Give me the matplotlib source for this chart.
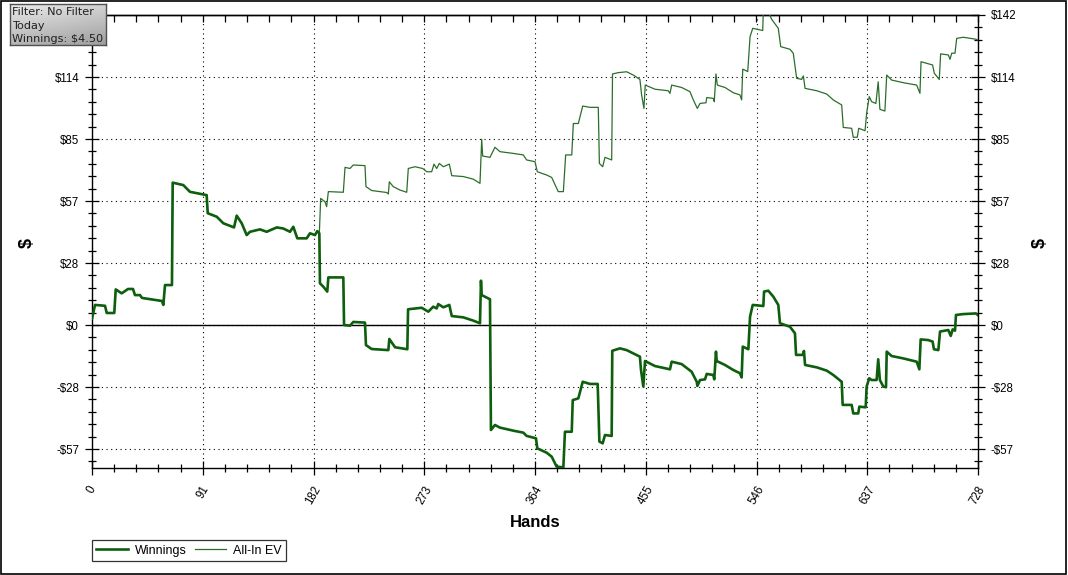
import matplotlib
matplotlib.use("Agg")
import matplotlib.pyplot as plt
import numpy as np
from matplotlib.ticker import FixedLocator, MultipleLocator
from matplotlib.patches import Rectangle

# ---------------- data ----------------
win_hands = [0, 2.5, 10.7, 12.1, 18.3, 19.5, 24.4, 29.6, 33.7, 35.3, 39.4, 41.1, 57.5, 58.6, 60.0, 65.7,
             66.3, 75.0, 80.5, 94.2, 95.1, 102.5, 107.9, 116.7, 118.9, 123.0, 127.1, 129.8, 138.0, 143.5,
             151.8, 157.2, 162.7, 165.4, 168.7, 176.4, 179.1, 183.2, 185.1, 186.8, 187.3, 190.0, 193.3,
             194.2, 206.5, 207.1, 212.0, 214.7, 224.3, 225.1, 229.8, 243.5, 244.3, 249.0, 259.1, 259.7,
             270.9, 276.3, 280.4, 283.2, 284.5, 288.7, 293.6, 295.6, 305.1, 313.3, 318.8, 319.6, 320.2,
             327.0, 327.8, 331.1, 335.2, 346.2, 354.4, 357.1, 364.8, 365.9, 373.6, 377.7, 381.8, 387.3,
             388.6, 394.2, 395.0, 399.6, 403.2, 409.2, 415.5, 416.9, 419.6, 421.5, 427.0, 427.5, 433.8,
             439.3, 450.2, 451.1, 453.0, 454.4, 462.6, 474.9, 476.3, 484.5, 492.7, 496.9, 497.4, 499.6,
             503.7, 505.1, 510.5, 511.3, 512.7, 513.3, 520.1, 526.9, 532.4, 533.8, 534.7, 539.3, 540.7,
             542.9, 551.6, 552.2, 555.7, 559.8, 563.9, 565.3, 573.5, 577.6, 578.5, 584.0, 585.0, 585.9,
             595.5, 603.7, 609.1, 616.0, 616.8, 624.2, 625.5, 629.6, 630.5, 635.7, 636.5, 638.6, 640.6,
             644.7, 646.0, 647.4, 650.2, 652.4, 653.0, 657.0, 666.6, 677.6, 679.8, 680.9, 687.1, 690.7,
             691.8, 695.4, 696.8, 703.6, 705.6, 707.2, 709.1, 709.9, 715.9, 726.3, 728]
win_values = [3.0, 9.2, 8.8, 5.5, 5.5, 16.3, 14.5, 16.5, 16.5, 13.7, 13.7, 12.4, 11.0, 9.2, 18.3, 18.3,
              65.2, 64.1, 61.0, 59.5, 51.2, 49.6, 46.6, 44.7, 50.1, 46.6, 41.2, 42.7, 43.8, 42.7,
              44.7, 44.2, 42.7, 45.0, 39.7, 39.7, 42.0, 41.2, 43.0, 42.0, 19.1, 17.6, 15.3,
              21.8, 21.8, 0.0, -0.3, 1.4, 1.1, -9.2, -11.0, -11.5, -6.4, -10.2, -11.1, 7.2,
              7.9, 6.1, 8.4, 7.6, 9.6, 8.1, 9.2, 4.1, 3.5, 2.0, 0.8, 20.3, 13.7,
              11.8, -48.1, -45.8, -47.0, -48.4, -49.3, -50.8, -51.9, -56.5, -58.5, -60.3, -64.9, -65.2,
              -48.9, -48.9, -34.4, -33.6, -26.0, -27.0, -27.0, -53.4, -54.2, -50.4, -50.8, -11.8, -10.7,
              -11.5, -14.5, -20.6, -28.2, -16.5, -18.8, -20.3, -16.8, -17.9, -21.4, -26.0, -27.9, -25.2,
              -24.9, -22.4, -22.9, -24.9, -12.2, -16.5, -18.3, -20.6, -22.1, -24.0, -9.9, -11.1, 3.8,
              9.2, 8.7, 15.3, 15.7, 13.0, 9.2, 0.8, -0.8, -3.8, -13.7, -13.7, -11.9, -18.3,
              -19.4, -20.9, -22.9, -26.0, -36.6, -36.6, -40.5, -40.5, -37.4, -37.7, -28.2, -24.4, -25.2,
              -25.2, -15.7, -25.2, -28.2, -28.5, -12.2, -14.2, -15.3, -16.8, -20.3, -6.6, -6.9, -7.6,
              -11.1, -11.5, -3.0, -2.3, -5.0, -2.0, -2.6, 4.6, 5.0, 5.3, 4.5]

ev_hands = [0, 2.5, 10.7, 12.1, 18.3, 19.5, 24.4, 29.6, 33.7, 35.3, 39.4, 41.1, 57.5, 58.6, 60.0, 65.7,
            66.3, 75.0, 80.5, 94.2, 95.1, 102.5, 107.9, 116.7, 118.9, 123.0, 127.1, 129.8, 138.0, 143.5,
            151.8, 157.2, 162.7, 165.4, 168.7, 176.4, 179.1, 183.2, 185.1, 186.8, 187.9, 191.4, 192.8,
            194.2, 206.5, 207.9, 212.0, 214.7, 224.3, 225.1, 229.8, 242.1, 243.5, 244.3, 247.5, 253.1,
            258.6, 259.9, 265.4, 271.7, 275.0, 279.1, 281.0, 283.2, 285.4, 288.7, 293.6, 295.6, 305.1,
            313.3, 318.8, 320.2, 321.0, 327.0, 331.1, 335.2, 346.2, 354.4, 357.1, 364.0, 365.9, 373.6,
            377.7, 383.1, 387.3, 389.2, 394.2, 395.5, 399.6, 403.2, 409.2, 416.0, 416.9, 419.6, 421.5,
            427.0, 427.7, 432.5, 439.3, 444.7, 450.2, 451.6, 453.5, 454.6, 462.6, 473.5, 474.9, 476.3,
            484.5, 491.3, 494.1, 497.4, 499.6, 504.5, 505.1, 510.5, 511.3, 512.7, 513.8, 520.1, 526.9,
            532.4, 533.8, 534.7, 538.8, 540.7, 542.9, 551.1, 551.6, 555.7, 558.5, 563.9, 565.9, 573.5,
            576.2, 579.0, 583.1, 584.5, 585.9, 595.5, 603.7, 609.1, 616.0, 617.3, 624.2, 625.5, 628.8,
            630.0, 635.2, 636.5, 638.6, 640.6, 644.1, 646.0, 647.4, 651.5, 653.0, 657.0, 666.6, 677.6,
            680.3, 681.2, 690.7, 692.1, 696.2, 697.3, 703.6, 705.0, 706.4, 709.1, 710.5, 715.9, 726.3, 728]
ev_values = [3.0, 9.2, 8.8, 5.5, 5.5, 16.3, 14.5, 16.5, 16.5, 13.7, 13.7, 12.4, 11.0, 9.2, 18.3, 18.3,
             65.2, 64.1, 61.0, 59.5, 51.2, 49.6, 46.6, 44.7, 50.1, 46.6, 41.2, 42.7, 43.8, 42.7,
             44.7, 44.2, 42.7, 45.0, 39.7, 39.7, 42.0, 41.2, 43.0, 42.0, 58.0, 56.5, 54.2,
             61.1, 60.8, 72.2, 71.7, 73.3, 73.0, 63.4, 61.6, 60.7, 60.0, 65.6, 63.4, 61.8,
             60.8, 71.7, 72.5, 71.7, 70.2, 70.2, 73.7, 71.7, 74.0, 72.5, 73.7, 68.4, 68.0,
             66.8, 64.9, 85.1, 77.4, 76.8, 81.4, 79.4, 78.6, 77.9, 75.6, 74.8, 70.2, 68.7,
             67.6, 61.1, 61.1, 77.9, 77.9, 92.3, 92.3, 100.3, 99.7, 99.7, 74.0, 72.5, 76.8,
             75.6, 115.0, 115.6, 116.0, 114.5, 112.5, 105.4, 99.2, 109.9, 108.0, 107.3, 106.1, 109.9,
             108.8, 106.9, 103.1, 99.2, 101.5, 101.8, 104.2, 103.8, 102.3, 115.0, 109.9, 108.8, 106.4,
             105.4, 103.1, 117.2, 116.1, 132.1, 135.9, 134.9, 143.5, 143.5, 140.0, 135.9, 127.5, 126.3,
             124.5, 113.0, 112.5, 114.1, 108.4, 107.3, 105.8, 103.1, 100.8, 90.5, 90.1, 86.0, 86.0,
             90.1, 89.0, 97.0, 104.6, 102.3, 101.5, 111.4, 98.8, 98.0, 114.5, 112.2, 111.0, 109.9,
             106.1, 120.6, 119.1, 115.3, 112.5, 124.2, 123.7, 121.7, 124.5, 124.5, 131.3, 131.8, 130.9, 130.5]

x_ticks = [0, 91, 182, 273, 364, 455, 546, 637, 728]
y_ticks = [-56.8, -28.4, 0, 28.4, 56.8, 85.2, 113.6, 142.0]
y_labels = ["-$57", "-$28", "$0", "$28", "$57", "$85", "$114", "$142"]
info_lines = ["Filter: No Filter", "Today", "Winnings: $4.50"]

# ---------------- figure ----------------
W, H = 1068, 575
fig = plt.figure(figsize=(W / 100, H / 100), dpi=100)
fig.patch.set_facecolor("white")

L, R, T, B = 92, 978, 15, 468
ax = fig.add_axes([L / W, 1 - B / H, (R - L) / W, (B - T) / H])
ax.set_facecolor("white")

tick_font = dict(family="Liberation Sans", size=8.3)

ax.plot(ev_hands, ev_values, color="#2b6e2b", lw=0.9, zorder=3, label="All-In EV")
ax.plot(win_hands, win_values, color="#0d5e0d", lw=1.9, zorder=4, label="Winnings")

ax.set_xlim(0, 728)
ax.set_ylim(-65.5, 142.0)

ax.axhline(0, color="black", lw=1.0, zorder=2)

ax.xaxis.set_major_locator(FixedLocator(x_ticks))
ax.xaxis.set_minor_locator(MultipleLocator(91 / 5))
ax.yaxis.set_major_locator(FixedLocator(y_ticks))
ax.yaxis.set_minor_locator(MultipleLocator(28.4 / 5))

ax.grid(True, which="major", color="black", linestyle=(0, (1, 3.2)), lw=0.8, zorder=1)

ax.tick_params(axis="both", which="major", direction="inout", length=10.5, width=0.9, color="black")
ax.tick_params(axis="both", which="minor", direction="inout", length=5.5, width=0.9, color="black")
ax.tick_params(axis="y", which="both", left=True, right=True, labelleft=True, labelright=True, pad=4)
ax.tick_params(axis="x", which="both", top=False)

ax.set_yticklabels(y_labels, **tick_font)
ax.set_xticklabels([str(v) for v in x_ticks], rotation=60, ha="center", va="top",
                   rotation_mode="default", **tick_font)
ax.tick_params(axis="x", which="major", pad=6)

# the top-left "$142" label is hidden behind the info box in the reference
for tk in ax.yaxis.get_major_ticks():
    if abs(tk.get_loc() - 142.0) < 1e-6:
        tk.label1.set_visible(False)

# top ticks (inward only)
top = ax.secondary_xaxis("top")
top.xaxis.set_major_locator(MultipleLocator(91 / 5))
top.tick_params(which="major", direction="in", length=5, width=0.9, labeltop=False)
top.spines["top"].set_linewidth(1.0)

for s in ax.spines.values():
    s.set_linewidth(1.0)
    s.set_color("black")

ax.set_xlabel("Hands", family="Liberation Sans", fontsize=12, fontweight="bold", labelpad=6)
fig.text(27 / W, 1 - 243 / H, "$", rotation=90, ha="center", va="center",
         family="Liberation Sans", fontsize=13, fontweight="bold")
fig.text(1040 / W, 1 - 243 / H, "$", rotation=90, ha="center", va="center",
         family="Liberation Sans", fontsize=13, fontweight="bold")

# legend
h, l = ax.get_legend_handles_labels()
leg = fig.legend([h[1], h[0]], [l[1], l[0]], loc="lower left",
                 bbox_to_anchor=(92 / W, 1 - 561 / H), ncol=2, frameon=True, fancybox=False,
                 edgecolor="black", prop=dict(family="Liberation Sans", size=9),
                 borderpad=0.35, handlelength=2.5, handletextpad=0.6, columnspacing=0.6,
                 borderaxespad=0)
leg.get_frame().set_linewidth(0.9)

# info box with gradient
ib = fig.add_axes([10 / W, 1 - 45 / H, 96 / W, 41 / H])
grad = np.linspace(0, 1, 64)
gx, gy = np.meshgrid(grad, grad)
g = 0.92 - 0.30 * (0.7 * gy + 0.3 * gx)
ib.imshow(np.dstack([g, g, g]), extent=[0, 1, 0, 1], aspect="auto", origin="upper")
ib.set_xlim(0, 1)
ib.set_ylim(0, 1)
ib.set_xticks([])
ib.set_yticks([])
for s in ib.spines.values():
    s.set_color("#505050")
    s.set_linewidth(1.0)
for txt, py in zip(info_lines, [12, 26, 39]):
    fig.text(12 / W, 1 - py / H, txt, ha="left", va="center", family="DejaVu Sans",
             fontsize=8.1, color="#202020", zorder=10)

# outer frame
fig.patches.append(Rectangle((0.0005, 0.002), 0.9975, 0.996, transform=fig.transFigure,
                             fill=False, edgecolor="black", lw=1.2))

fig.savefig("out.png", dpi=100, facecolor="white")
